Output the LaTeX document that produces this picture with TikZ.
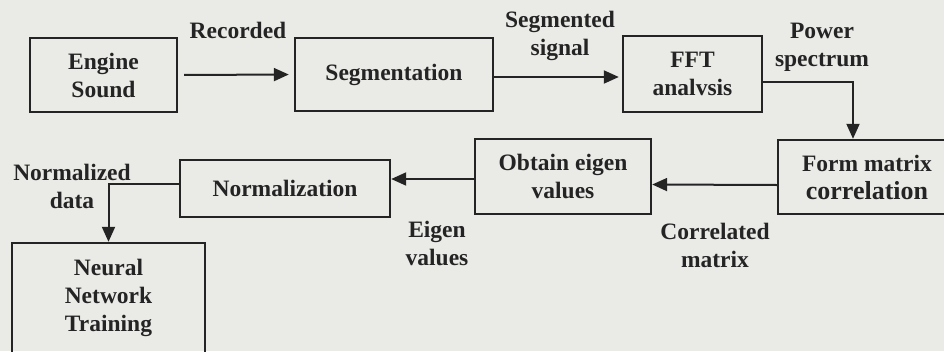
\documentclass[tikz,border=0pt]{standalone}
\usepackage{fontspec}
\setmainfont{Liberation Serif}
\usetikzlibrary{arrows.meta}
\definecolor{paper}{RGB}{234,234,231}
\definecolor{ink}{RGB}{36,36,36}

\begin{document}
\begin{tikzpicture}[x=1pt, y=-1pt,
    blk/.style={draw=ink, line width=2.4pt, rectangle, inner sep=0pt, align=center,
        text=ink, font=\bfseries\fontsize{23.5}{28}\selectfont},
    lbl/.style={align=center, inner sep=0pt, text=ink,
        font=\bfseries\fontsize{23.5}{28}\selectfont},
    flow/.style={draw=ink, line width=2pt, -{Triangle[length=15pt,width=13pt]}}]
    \clip (0,0) rectangle (944,351);
    \fill[paper] (0,0) rectangle (944,351);

    % processing blocks
    \node[blk, minimum width=147pt, minimum height=74pt] (engine) at (103.5,75) {Engine\\Sound};
    \node[blk, minimum width=198pt, minimum height=73pt] (seg) at (394,74.5) {Segmentation};
    \node[blk, minimum width=139pt, minimum height=76pt] (fft) at (692.5,74) {FFT\\analvsis};
    \node[blk, minimum width=178pt, minimum height=74pt] (form) at (867,177)
        {Form matrix\\{\fontsize{26}{28}\selectfont correlation}};
    \node[blk, minimum width=176pt, minimum height=75pt] (eigen) at (563,176.5) {Obtain eigen\\values};
    \node[blk, minimum width=210pt, minimum height=57pt] (norm) at (285,188.5) {Normalization};
    \node[blk, minimum width=193pt, minimum height=110pt] (neural) at (108.5,298) {Neural\\Network\\Training};

    % signal labels
    \node[lbl, anchor=base] (recorded) at (238,38) {Recorded};
    \node[lbl] (segsignal) at (560,36) {Segmented\\signal};
    \node[lbl] (spectrum) at (822,47.5) {Power\\spectrum};
    \node[lbl] (corrmat) at (715,245) {Correlated\\matrix};
    \node[lbl] (eigvals) at (437,243.5) {Eigen\\values};
    \node[lbl] (normdata) at (72,186.5) {Normalized\\data};

    % flow between blocks
    \draw[flow, shorten <=6pt, shorten >=5pt] (engine.east) -- (seg.west);
    \draw[flow, shorten >=3pt] ([yshift=-2.5pt]seg.east) -- ([yshift=-3pt]fft.west);
    \draw[flow] ([yshift=-8pt]fft.east) -| ([xshift=-14pt]form.north);
    \draw[flow] ([yshift=-8pt]form.west) -- ([yshift=-8pt]eigen.east);
    \draw[flow] ([yshift=-2.5pt]eigen.west) -- ([yshift=9.5pt]norm.east);
    \draw[flow] ([yshift=4.5pt]norm.west) -| (neural.north);
\end{tikzpicture}
\end{document}
